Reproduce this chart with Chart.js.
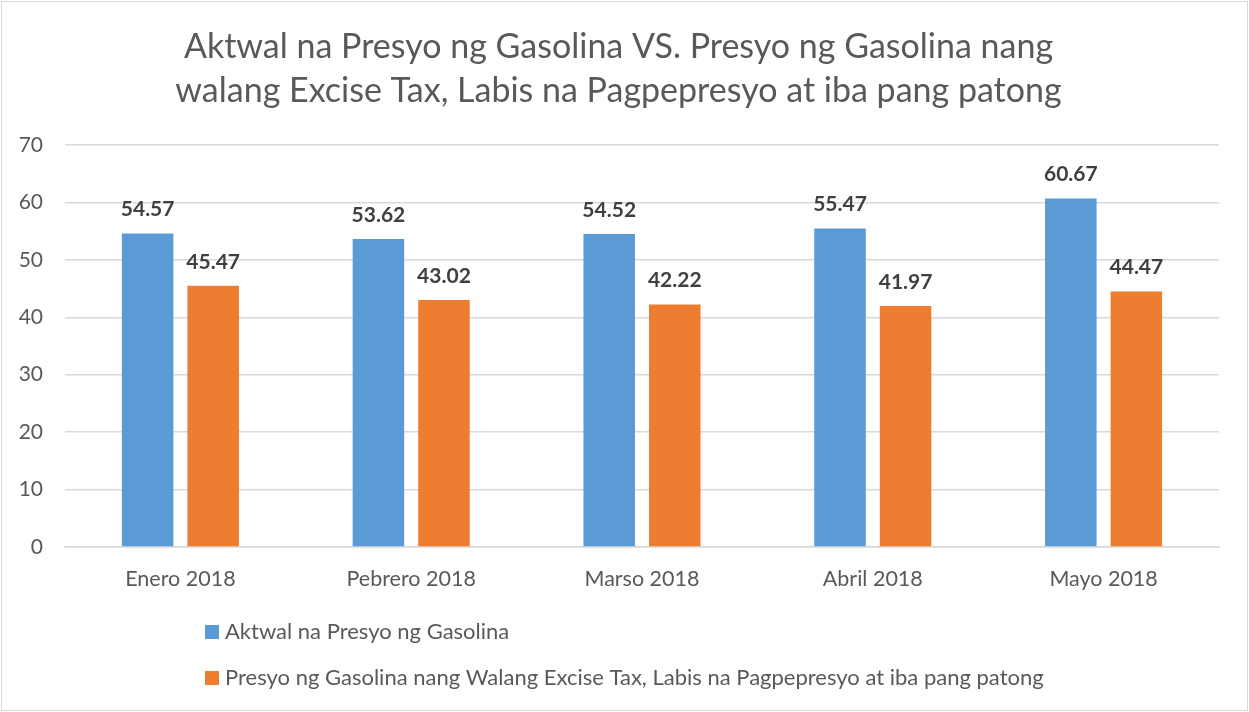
<!DOCTYPE html>
<html>
<head>
<meta charset="utf-8">
<script src="https://cdn.jsdelivr.net/npm/chart.js@4.4.1/dist/chart.umd.min.js"></script>
<style>
  html, body { margin: 0; padding: 0; background: #fff; }
  #wrap { width: 1249px; height: 712px; position: relative; }
</style>
</head>
<body>
<div id="wrap"><canvas id="c" width="1249" height="712"></canvas></div>
<script>
const categories = ["Enero 2018", "Pebrero 2018", "Marso 2018", "Abril 2018", "Mayo 2018"];
const seriesNames = [
  "Aktwal na Presyo ng Gasolina",
  "Presyo ng Gasolina nang Walang Excise Tax, Labis na Pagpepresyo at iba pang patong"
];
const aktwal = [54.57, 53.62, 54.52, 55.47, 60.67];
const walangTax = [45.47, 43.02, 42.22, 41.97, 44.47];
const titleLines = [
  "Aktwal na Presyo ng Gasolina VS. Presyo ng Gasolina nang",
  "walang Excise Tax, Labis na Pagpepresyo at iba pang patong"
];
const colors = ["#5B9BD5", "#ED7D31"];

const FONT = "Lato, 'Open Sans', sans-serif";
const TEXT = "#595959";

const valueLabels = {
  id: "valueLabels",
  afterDatasetsDraw(chart) {
    const ctx = chart.ctx;
    ctx.save();
    ctx.font = "bold 21px " + FONT;
    ctx.fillStyle = "#404040";
    ctx.textAlign = "center";
    ctx.textBaseline = "middle";
    chart.data.datasets.forEach((ds, i) => {
      const meta = chart.getDatasetMeta(i);
      meta.data.forEach((el, j) => {
        ctx.fillText(ds.data[j].toFixed(2), el.x, el.y - 24);
      });
    });
    ctx.restore();
  }
};

const customLegend = {
  id: "customLegend",
  afterDraw(chart) {
    const ctx = chart.ctx;
    const a = chart.chartArea;
    ctx.save();
    ctx.font = "22px " + FONT;
    ctx.textBaseline = "middle";
    ctx.textAlign = "left";
    chart.data.datasets.forEach((ds, i) => {
      const y = a.bottom + 85 + i * 46;
      const x = 205;
      ctx.fillStyle = ds.backgroundColor;
      ctx.fillRect(x, y - 7, 14, 14);
      ctx.fillStyle = TEXT;
      ctx.fillText(ds.label, x + 20, y);
    });
    // outer chart border
    ctx.strokeStyle = "#D9D9D9";
    ctx.lineWidth = 1;
    ctx.strokeRect(1.5, 1.5, chart.width - 3, chart.height - 3);
    ctx.restore();
  }
};

new Chart(document.getElementById("c"), {
  type: "bar",
  data: {
    labels: categories,
    datasets: [
      { label: seriesNames[0], data: aktwal, backgroundColor: colors[0],
        barPercentage: 0.786, categoryPercentage: 0.568 },
      { label: seriesNames[1], data: walangTax, backgroundColor: colors[1],
        barPercentage: 0.786, categoryPercentage: 0.568 }
    ]
  },
  options: {
    responsive: false,
    animation: false,
    devicePixelRatio: 1,
    layout: { padding: { left: 18, right: 30, top: 0, bottom: 115 } },
    plugins: {
      legend: { display: false },
      tooltip: { enabled: false },
      title: {
        display: true,
        text: titleLines,
        color: TEXT,
        font: { family: FONT, size: 34, weight: "normal", lineHeight: 1.294 },
        padding: { top: 25, bottom: 32 }
      }
    },
    scales: {
      x: {
        grid: { display: false, drawTicks: false },
        border: { display: true, color: "#D9D9D9", width: 1.5 },
        ticks: { color: TEXT, font: { family: FONT, size: 21.5 }, padding: 19, maxRotation: 0 },
        afterFit(s) { s.height = 50; }
      },
      y: {
        min: 0, max: 70,
        ticks: { stepSize: 10, color: TEXT, font: { family: FONT, size: 21 }, padding: 22 },
        grid: { color: "#D9D9D9", lineWidth: 1.5, drawTicks: false },
        border: { display: false },
        afterFit(s) { s.width = 47; }
      }
    }
  },
  plugins: [valueLabels, customLegend]
});
</script>
</body>
</html>
